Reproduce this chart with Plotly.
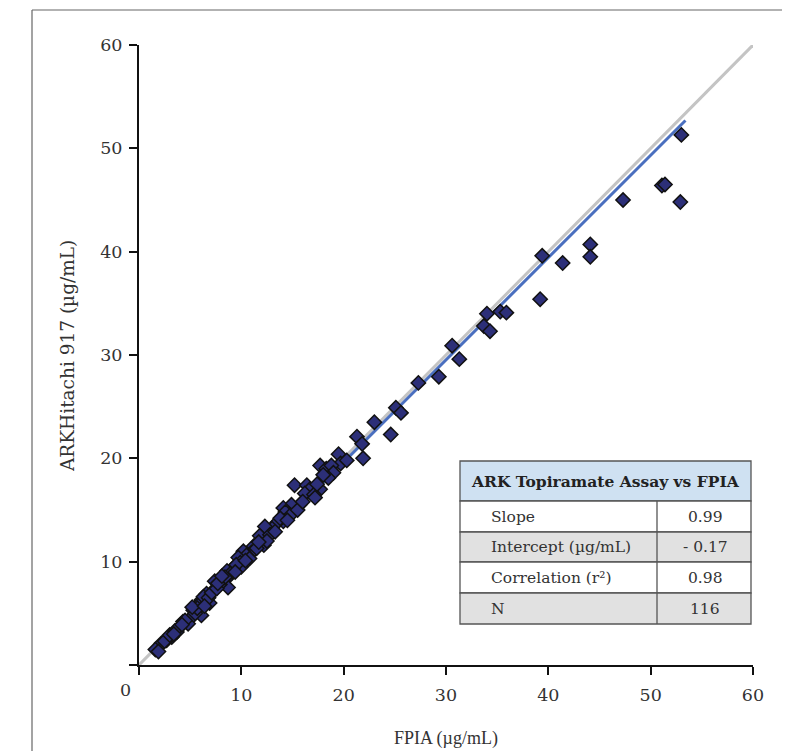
import plotly.graph_objects as go

# ---- data ----
fpia = [53.0, 51.1, 51.4, 47.3, 52.9, 44.1, 44.1, 39.4, 41.4, 39.2,
        34.0, 35.3, 35.9, 33.7, 34.3, 30.6, 31.3, 27.3, 29.3, 25.1,
        25.6, 23.0, 24.6, 21.3, 21.8, 21.9, 19.5, 19.7, 17.7, 18.3,
        18.8, 19.0, 18.5, 15.2, 16.4, 16.7, 17.7, 16.2, 17.1, 15.7,
        14.9, 14.1, 14.3, 14.8, 14.1, 13.5, 13.0, 12.3, 11.8, 12.8,
        12.2, 11.2, 11.0, 10.2, 10.5, 9.7, 9.9, 10.0, 9.2, 8.6,
        8.9, 8.2, 8.7, 7.4, 7.9, 9.1, 7.4, 6.6, 6.9, 6.1,
        5.8, 5.3, 6.1, 5.0, 4.3, 4.8, 4.0, 3.7, 3.2, 2.7,
        2.2, 1.6, 1.9, 9.5, 2.5, 3.0, 3.5, 4.5, 5.5, 5.7,
        6.3, 6.8, 7.1, 7.6, 8.4, 9.4, 10.8, 11.5, 12.5, 13.3,
        13.8, 15.5, 16.0, 17.4, 18.0, 20.3, 4.2, 3.4, 5.2, 6.4,
        7.7, 8.1, 10.4, 11.7, 14.5, 17.2]
ark = [51.3, 46.4, 46.5, 45.0, 44.8, 40.7, 39.5, 39.6, 38.9, 35.4,
       34.0, 34.2, 34.1, 32.8, 32.3, 30.9, 29.6, 27.3, 27.9, 24.9,
       24.4, 23.5, 22.3, 22.1, 21.4, 20.0, 20.4, 19.5, 19.3, 19.0,
       19.3, 18.6, 18.1, 17.4, 17.4, 17.0, 17.0, 16.6, 16.5, 15.5,
       15.5, 15.2, 14.8, 14.5, 13.9, 13.8, 13.2, 13.4, 12.5, 12.6,
       11.6, 11.5, 10.9, 11.0, 10.6, 10.4, 9.9, 9.5, 9.4, 9.1,
       8.7, 8.2, 7.5, 8.1, 7.8, 9.0, 7.3, 6.9, 6.0, 6.3,
       5.8, 5.3, 4.8, 4.5, 4.2, 4.0, 3.7, 3.2, 2.7, 2.4,
       2.1, 1.5, 1.3, 9.7, 2.3, 2.9, 3.3, 4.3, 5.0, 5.5,
       6.6, 6.5, 7.0, 7.4, 8.5, 9.0, 10.3, 11.3, 12.0, 12.9,
       14.2, 15.0, 15.8, 17.5, 18.4, 19.8, 3.9, 3.0, 5.6, 5.7,
       7.9, 8.6, 10.1, 11.9, 14.0, 16.2]

identity_x = [0, 60]
slope = 0.99
intercept = -0.17
fit_x = [1.7, 53.4]
fit_y = [slope * v + intercept for v in fit_x]

tick_vals = [0, 10, 20, 30, 40, 50, 60]
tick_text = ["", "10", "20", "30", "40", "50", "60"]

table_title = "ARK Topiramate Assay vs FPIA"
table_labels = ["Slope", "Intercept (µg/mL)", "Correlation (r²)", "N"]
table_values = ["0.99", "- 0.17", "0.98", "116"]

x_title = "FPIA (µg/mL)"
y_title = "ARKHitachi 917 (µg/mL)"

# ---- geometry helpers (screen pixel -> paper); page body has an 8px margin ----
OFF = 8
W, H = 790 - OFF, 751 - OFF
L, R, T, B = 139 - OFF, 753 - OFF, 45 - OFF, 665 - OFF


def px(x):
    return (x - OFF - L) / (R - L)


def py(y):
    return (B - (y - OFF)) / (B - T)


fig = go.Figure()
fig.add_trace(go.Scatter(x=identity_x, y=identity_x, mode="lines",
                         line=dict(color="#c4c4c4", width=3),
                         hoverinfo="skip", showlegend=False))
fig.add_trace(go.Scatter(x=fit_x, y=fit_y, mode="lines",
                         line=dict(color="#4a6fbf", width=3),
                         hoverinfo="skip", showlegend=False))
fig.add_trace(go.Scatter(x=fpia, y=ark, mode="markers",
                         marker=dict(symbol="diamond", size=11, color="#2c2f78",
                                     line=dict(color="#111111", width=1.5)),
                         showlegend=False))

serif = "DejaVu Serif"
axis_common = dict(range=[0, 60], tickvals=tick_vals, ticktext=tick_text,
                   ticks="outside", ticklen=8, tickwidth=2, tickcolor="#111",
                   showline=True, linecolor="#111", linewidth=2,
                   showgrid=False, zeroline=False,
                   tickfont=dict(family=serif, size=17.5, color="#333"))

fig.update_layout(
    width=W, height=H,
    margin=dict(l=L, r=W - R, t=T, b=H - B),
    paper_bgcolor="white", plot_bgcolor="white",
    xaxis=dict(**axis_common, ticklabelstandoff=5),
    yaxis=dict(**axis_common, ticklabelstandoff=3),
)

shapes = []
# frame (left, top, right)
fl, ft, fr = px(32), py(10), px(787)
fb = py(760)
frame_line = dict(color="#666", width=1.2)
shapes.append(dict(type="line", xref="paper", yref="paper", x0=fl, x1=fl, y0=fb, y1=ft, line=frame_line))
shapes.append(dict(type="line", xref="paper", yref="paper", x0=fl, x1=fr, y0=ft, y1=ft, line=frame_line))
shapes.append(dict(type="line", xref="paper", yref="paper", x0=fr, x1=fr, y0=fb, y1=ft, line=frame_line))
# extension of x axis line left of origin
shapes.append(dict(type="line", xref="paper", yref="paper", x0=px(131), x1=px(139),
                   y0=0, y1=0, line=dict(color="#111", width=2)))

# table
tl, tr, tt = 460, 751, 461
row_edges = [461, 501, 532, 562, 593, 624]
col_div = 657
fills = ["#cfe1f2", "white", "#e1e1e1", "white", "#e1e1e1"]
for i, f in enumerate(fills):
    shapes.append(dict(type="rect", xref="paper", yref="paper",
                       x0=px(tl), x1=px(tr), y0=py(row_edges[i + 1]), y1=py(row_edges[i]),
                       fillcolor=f, line=dict(color="#555", width=1.3), layer="above"))
shapes.append(dict(type="line", xref="paper", yref="paper", x0=px(col_div), x1=px(col_div),
                   y0=py(row_edges[-1]), y1=py(row_edges[1]), line=dict(color="#555", width=1.3)))
fig.update_layout(shapes=shapes)

ann = []
ann.append(dict(xref="paper", yref="paper", x=px((tl + tr) / 2), y=py((row_edges[0] + row_edges[1]) / 2),
                text="<b>" + table_title + "</b>", showarrow=False,
                font=dict(family=serif, size=15.5, color="#222"), xanchor="center", yanchor="middle"))
for i, (lab, val) in enumerate(zip(table_labels, table_values)):
    yc = py((row_edges[i + 1] + row_edges[i + 2]) / 2)
    ann.append(dict(xref="paper", yref="paper", x=px(489), y=yc, text=lab, showarrow=False,
                    font=dict(family=serif, size=15.5, color="#333"), xanchor="left", yanchor="middle"))
    ann.append(dict(xref="paper", yref="paper", x=px(705), y=yc, text=val, showarrow=False,
                    font=dict(family=serif, size=15.5, color="#333"), xanchor="center", yanchor="middle"))
# origin label
ann.append(dict(xref="paper", yref="paper", x=px(125), y=py(690), text="0", showarrow=False,
                font=dict(family=serif, size=17.5, color="#333"), xanchor="center", yanchor="middle"))
# axis titles
ann.append(dict(xref="paper", yref="paper", x=px(446), y=py(738), text=x_title, showarrow=False,
                font=dict(family="Liberation Serif", size=18, color="#333"), xanchor="center", yanchor="middle"))
ann.append(dict(xref="paper", yref="paper", x=px(67), y=py(356), text=y_title, showarrow=False, textangle=-90,
                font=dict(family=serif, size=18.5, color="#333"), xanchor="center", yanchor="middle"))
fig.update_layout(annotations=ann)

fig.write_html("out.html")
